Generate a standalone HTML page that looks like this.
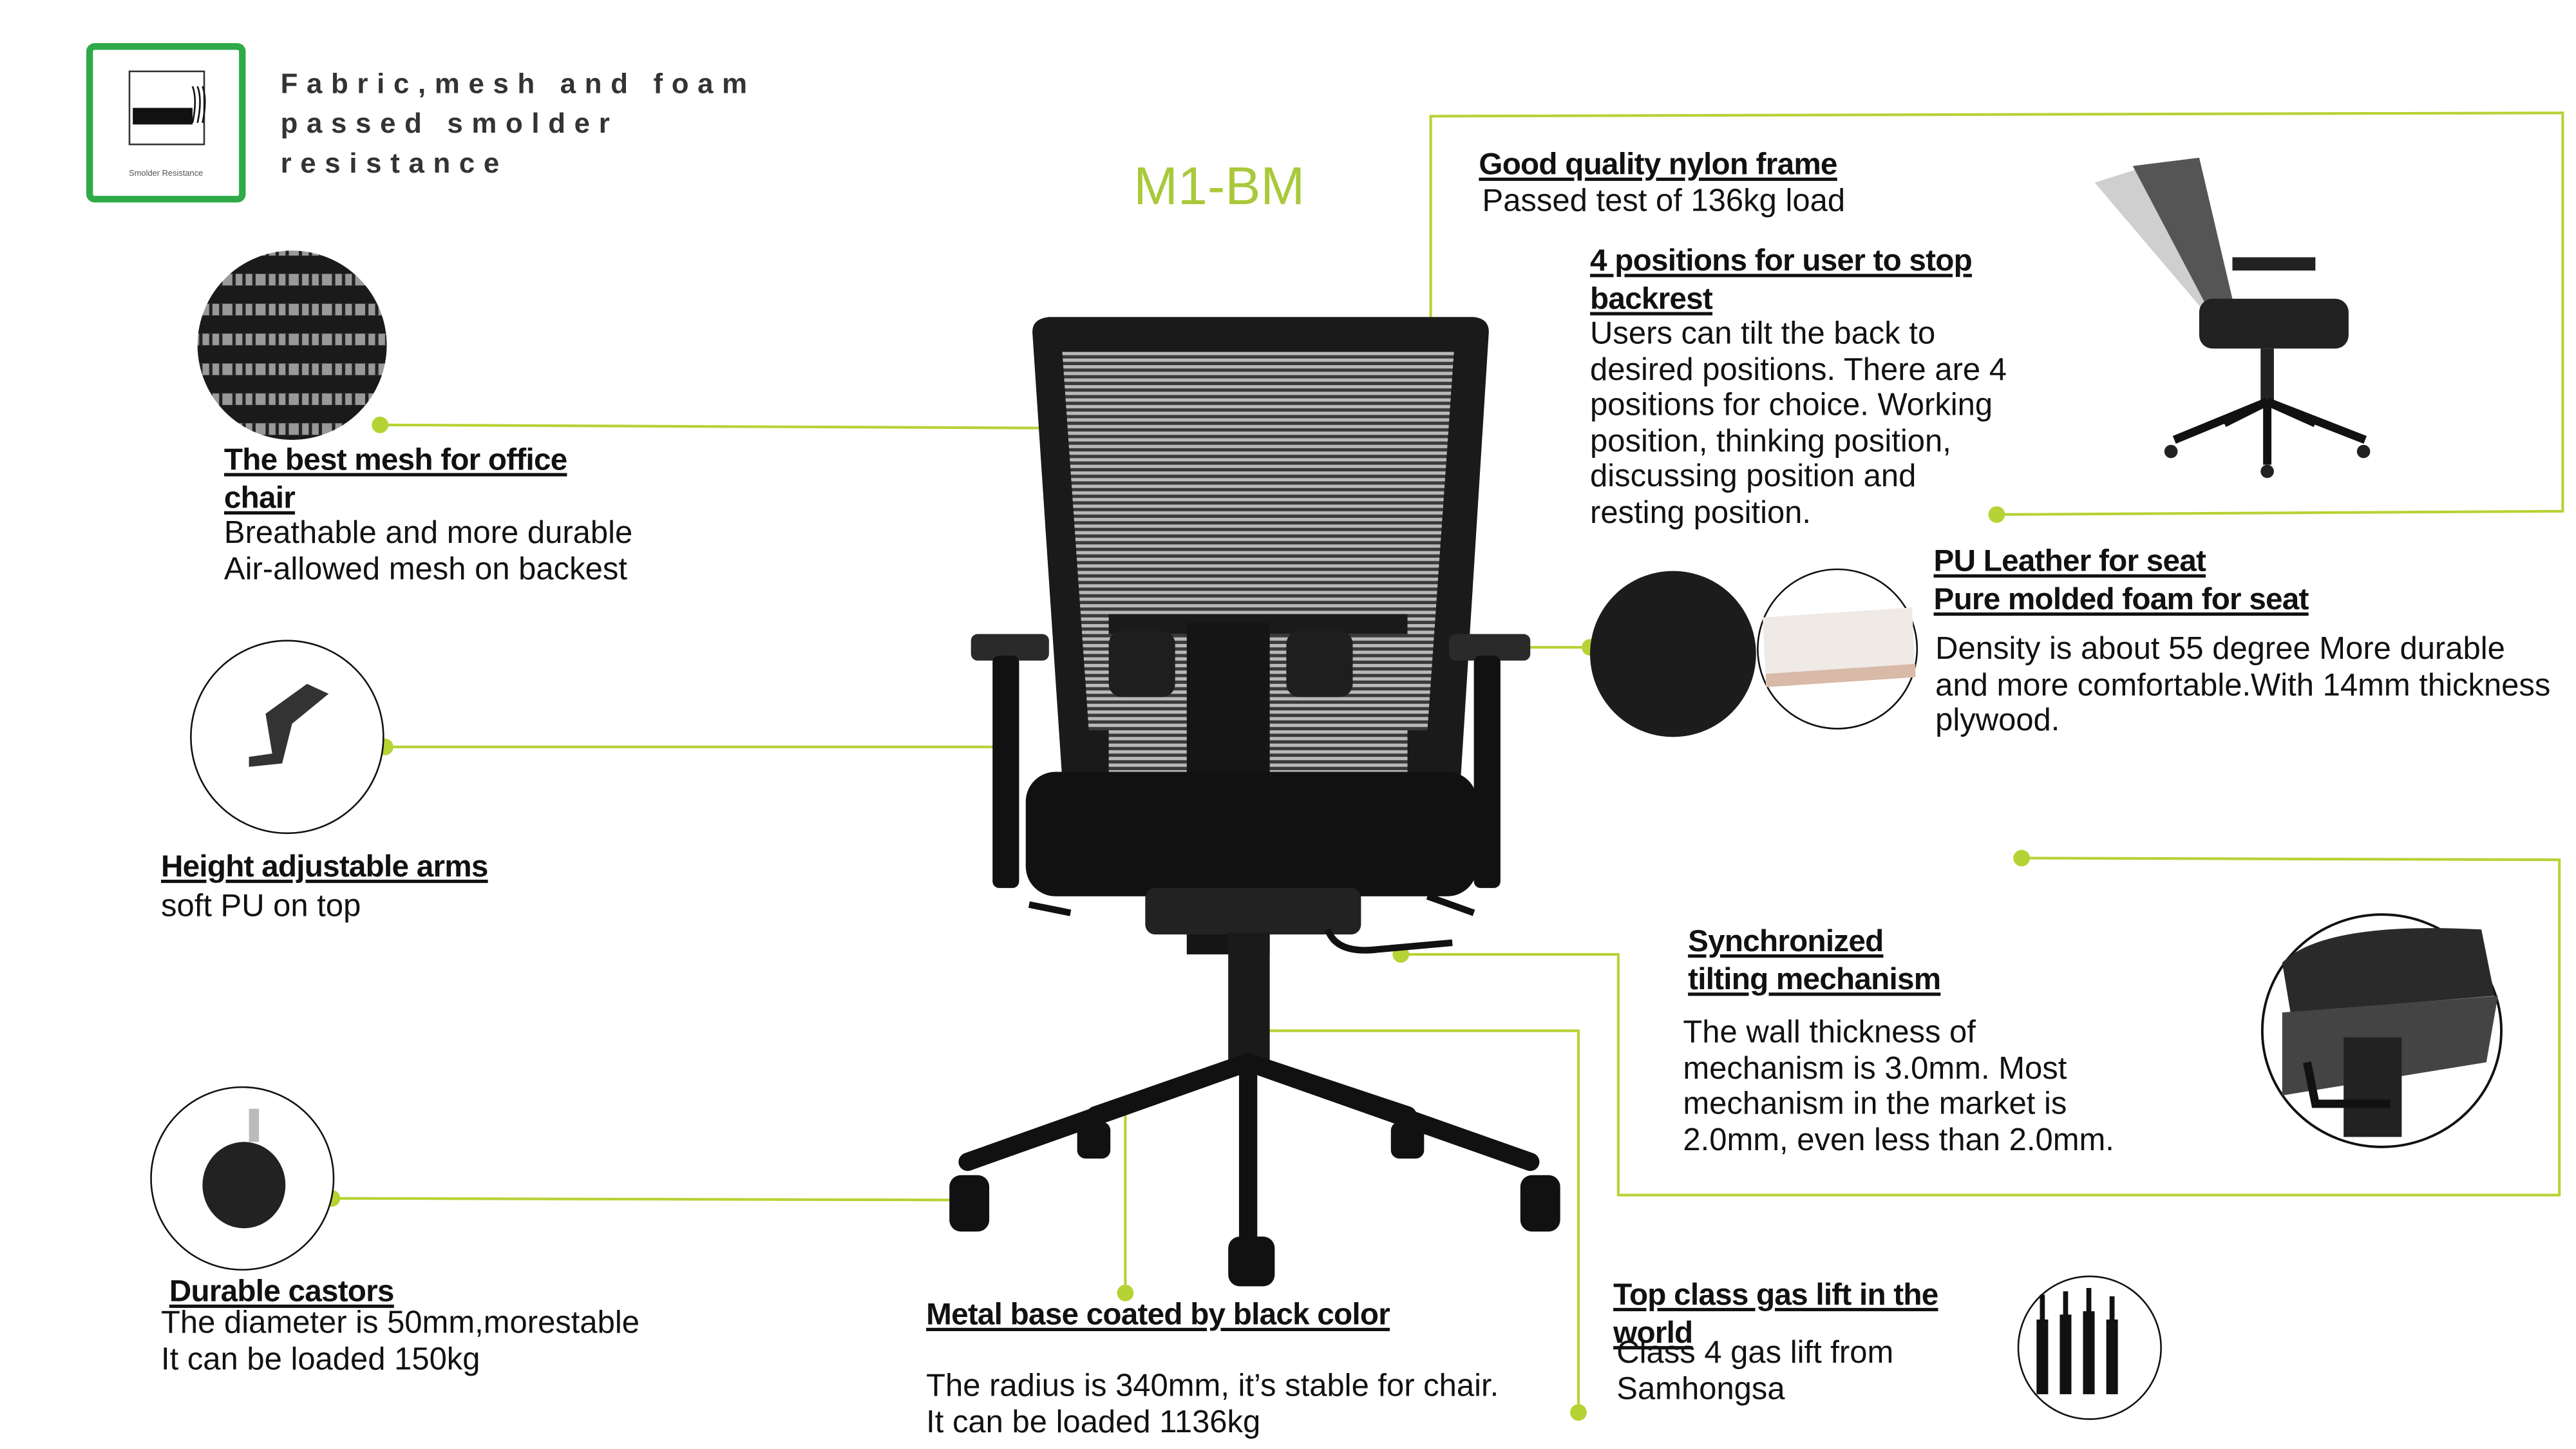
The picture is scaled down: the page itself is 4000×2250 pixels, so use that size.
<!DOCTYPE html>
<html><head><meta charset="utf-8"><style>
html,body{margin:0;padding:0;background:#fff;overflow:hidden}
#w{position:absolute;left:0;top:0;width:1552px;height:873px;transform:scale(2.5773);transform-origin:0 0;font-family:"Liberation Sans",sans-serif;color:#111}
.t{position:absolute;font-size:19px;line-height:21.5px;white-space:nowrap}
.b{font-weight:bold;text-decoration:underline;text-decoration-thickness:1.5px;text-underline-offset:2px;font-size:18.5px;letter-spacing:-0.3px}
svg{position:absolute;left:0;top:0}
</style></head><body><div id="w">
<svg width="1552" height="873" viewBox="0 0 1552 873">
<defs>
<pattern id="mesh" width="4" height="4" patternUnits="userSpaceOnUse"><rect width="4" height="4" fill="#3a3a3a"/><rect width="4" height="2" fill="#b9b9b9"/></pattern>
<pattern id="m2" width="20" height="18" patternUnits="userSpaceOnUse"><rect width="20" height="18" fill="#1a1a1a"/><rect y="3" width="20" height="7" fill="#999"/><rect x="0" y="3" width="2" height="7" fill="#222"/><rect x="6" y="3" width="2" height="7" fill="#222"/><rect x="12" y="3" width="2" height="7" fill="#222"/></pattern>
</defs>
<!-- smolder icon -->
<rect x="54" y="28" width="92" height="92" rx="3" fill="#fff" stroke="#2eaa48" stroke-width="4"/>
<rect x="78" y="43" width="45" height="44" fill="#fff" stroke="#333" stroke-width="1"/>
<rect x="80" y="65" width="36" height="10" fill="#111"/>
<path d="M116 52 q3 8 0 22 M119 52 q3 8 0 22 M122 52 q3 8 0 22" stroke="#111" fill="none" stroke-width="1"/>
<text x="100" y="106" font-size="5" text-anchor="middle" fill="#555" font-family="Liberation Sans">Smolder Resistance</text>
<!-- green connectors -->
<g stroke="#b5d334" stroke-width="1.6" fill="none">
<path d="M229 256 L653 258"/>
<path d="M862 258 L862 70 L1544 68 L1544 308 L1203 310"/>
<path d="M232 450 L606 450"/>
<path d="M958 390 L848 390 L848 495"/>
<path d="M1218 517 L1542 518 L1542 720 L975 720 L975 575 L844 575"/>
<path d="M752 621 L951 621 L951 851"/>
<path d="M678 779 L678 666"/>
<path d="M200 722 L586 723"/>
</g>
<g fill="#b5d334">
<circle cx="229" cy="256" r="5"/><circle cx="653" cy="258" r="5"/><circle cx="862" cy="258" r="5"/><circle cx="1203" cy="310" r="5"/>
<circle cx="232" cy="450" r="5"/><circle cx="606" cy="450" r="5"/><circle cx="958" cy="390" r="5"/><circle cx="848" cy="495" r="5"/>
<circle cx="1218" cy="517" r="5"/><circle cx="844" cy="575" r="5"/><circle cx="752" cy="621" r="5"/><circle cx="951" cy="851" r="5"/>
<circle cx="678" cy="779" r="5"/><circle cx="678" cy="666" r="5"/><circle cx="200" cy="722" r="5"/><circle cx="586" cy="723" r="5"/>
</g>
<!-- mesh circle -->
<ellipse cx="176" cy="208" rx="57" ry="57" fill="url(#m2)"/>
<!-- arm circle -->
<circle cx="173" cy="444" r="58" fill="#fff" stroke="#111" stroke-width="1"/>
<path d="M160 430 L185 412 L198 418 L176 436 L170 460 L150 462 L150 456 L164 454 Z" fill="#333"/>
<!-- castor circle -->
<circle cx="146" cy="710" r="55" fill="#fff" stroke="#111" stroke-width="1"/>
<rect x="150" y="668" width="6" height="20" fill="#bbb"/>
<ellipse cx="147" cy="714" rx="25" ry="26" fill="#222"/>
<!-- PU leather & foam -->
<circle cx="1008" cy="394" r="50" fill="#1c1c1c"/>
<circle cx="1107" cy="391" r="48" fill="#fff" stroke="#111" stroke-width="1"/>
<path d="M1062 372 L1152 366 L1154 408 L1064 414 Z" fill="#efeae6"/>
<path d="M1064 406 L1154 400 L1154 408 L1064 414 Z" fill="#d9b9a8"/>
<!-- mechanism circle -->
<ellipse cx="1435" cy="621" rx="72" ry="70" fill="#fff" stroke="#111" stroke-width="1.5"/>
<path d="M1375 580 Q1400 555 1495 560 L1503 600 L1380 610 Z" fill="#2a2a2a"/>
<path d="M1375 610 L1505 600 L1498 640 L1375 660 Z" fill="#444"/>
<rect x="1412" y="625" width="35" height="60" fill="#222"/>
<path d="M1390 640 L1395 665 L1440 665" stroke="#111" stroke-width="5" fill="none"/>
<!-- gas lift circle -->
<ellipse cx="1259" cy="812" rx="43" ry="43" fill="#fff" stroke="#111" stroke-width="1"/>
<g fill="#111"><rect x="1227" y="795" width="7" height="45"/><rect x="1241" y="792" width="7" height="48"/><rect x="1255" y="790" width="7" height="50"/><rect x="1269" y="795" width="7" height="45"/>
<rect x="1229" y="780" width="3" height="16"/><rect x="1243" y="778" width="3" height="16"/><rect x="1257" y="776" width="3" height="16"/><rect x="1271" y="781" width="3" height="16"/></g>
<!-- small chair top right -->
<g fill="#222">
<path d="M1262 110 L1300 98 L1340 170 L1330 190 Z" fill="#bbb" opacity="0.7"/>
<path d="M1285 100 L1325 95 L1345 180 L1335 195 Z" fill="#555"/>
<rect x="1325" y="180" width="90" height="30" rx="8"/>
<rect x="1345" y="155" width="50" height="8"/>
<rect x="1362" y="210" width="8" height="35"/>
<path d="M1366 242 L1310 265 M1366 242 L1425 265 M1366 242 L1366 280 M1366 242 L1340 255 M1366 242 L1395 255" stroke="#111" stroke-width="5"/>
<circle cx="1308" cy="272" r="4"/><circle cx="1424" cy="272" r="4"/><circle cx="1366" cy="284" r="4"/>
</g>
<!-- main chair -->
<g>
<path d="M622 200 Q622 192 632 191 L888 191 Q897 192 897 200 L880 470 L640 470 Z" fill="#1a1a1a"/>
<path d="M640 212 L876 212 L860 440 L656 440 Z" fill="url(#mesh)"/>
<rect x="668" y="380" width="180" height="90" fill="url(#mesh)"/>
<rect x="668" y="370" width="180" height="12" fill="#1a1a1a"/>
<rect x="715" y="375" width="50" height="200" fill="#151515"/>
<rect x="668" y="380" width="40" height="40" rx="8" fill="#1e1e1e"/>
<rect x="775" y="380" width="40" height="40" rx="8" fill="#1e1e1e"/>
<rect x="618" y="465" width="272" height="75" rx="18" fill="#111"/>
<rect x="585" y="382" width="47" height="16" rx="4" fill="#2a2a2a"/>
<rect x="598" y="395" width="16" height="140" rx="4" fill="#111"/>
<rect x="873" y="382" width="49" height="16" rx="4" fill="#2a2a2a"/>
<rect x="888" y="395" width="16" height="140" rx="4" fill="#111"/>
<rect x="690" y="535" width="130" height="28" rx="6" fill="#222"/>
<path d="M800 560 Q805 575 830 572 L875 568" stroke="#111" stroke-width="4" fill="none"/>
<path d="M620 545 L645 550 M860 540 L888 550" stroke="#111" stroke-width="4"/>
<rect x="740" y="562" width="25" height="80" fill="#1a1a1a"/>
<g stroke="#111" stroke-width="11" stroke-linecap="round">
<path d="M752 640 L583 700"/><path d="M752 640 L922 700"/><path d="M752 640 L752 745"/><path d="M752 640 L660 672"/><path d="M752 640 L848 672"/>
</g>
<g fill="#111">
<rect x="572" y="708" width="24" height="34" rx="7"/><rect x="916" y="708" width="24" height="34" rx="7"/>
<rect x="740" y="745" width="28" height="30" rx="7"/><rect x="649" y="676" width="20" height="22" rx="5"/><rect x="838" y="676" width="20" height="22" rx="5"/>
</g>
</g>
</svg>
<div class="t" style="left:169px;top:39px;font-size:17px;font-weight:bold;letter-spacing:5.3px;line-height:24px;color:#333">Fabric,mesh and foam<br>passed smolder<br>resistance</div>
<div class="t" style="left:683px;top:92px;font-size:32px;line-height:40px;color:#a9c93b">M1-BM</div>
<div class="t" style="left:135px;top:266px"><span class="b">The best mesh for office</span><br><span class="b">chair</span><br>Breathable and more durable<br>Air-allowed mesh on backest</div>
<div class="t" style="left:97px;top:511px"><span class="b">Height adjustable arms</span></div>
<div class="t" style="left:97px;top:536px">soft PU on top</div>
<div class="t" style="left:102px;top:767px"><span class="b">Durable castors</span></div>
<div class="t" style="left:97px;top:787px">The diameter is 50mm,morestable<br>It can be loaded 150kg</div>
<div class="t" style="left:558px;top:781px"><span class="b">Metal base coated by black color</span></div>
<div class="t" style="left:558px;top:825px">The radius is 340mm, it’s stable for chair.<br>It can be loaded 1136kg</div>
<div class="t" style="left:891px;top:88px"><span class="b">Good quality nylon frame</span></div>
<div class="t" style="left:893px;top:111px">Passed test of 136kg load</div>
<div class="t" style="left:958px;top:146px"><span class="b">4 positions for user to stop</span><br><span class="b">backrest</span></div>
<div class="t" style="left:958px;top:191px">Users can tilt the back to<br>desired positions. There are 4<br>positions for choice. Working<br>position, thinking position,<br>discussing position and<br>resting position.</div>
<div class="t" style="left:1165px;top:327px"><span class="b">PU Leather for seat</span><br><span class="b">Pure molded foam for seat</span></div>
<div class="t" style="left:1166px;top:381px">Density is about 55 degree More durable<br>and more comfortable.With 14mm thickness<br>plywood.</div>
<div class="t" style="left:1017px;top:556px"><span class="b">Synchronized</span><br><span class="b">tilting mechanism</span></div>
<div class="t" style="left:1014px;top:612px">The wall thickness of<br>mechanism is 3.0mm. Most<br>mechanism in the market is<br>2.0mm, even less than 2.0mm.</div>
<div class="t" style="left:972px;top:769px"><span class="b">Top class gas lift in the</span><br><span class="b">world</span></div>
<div class="t" style="left:974px;top:805px">Class 4 gas lift from<br>Samhongsa</div>
</div></body></html>
